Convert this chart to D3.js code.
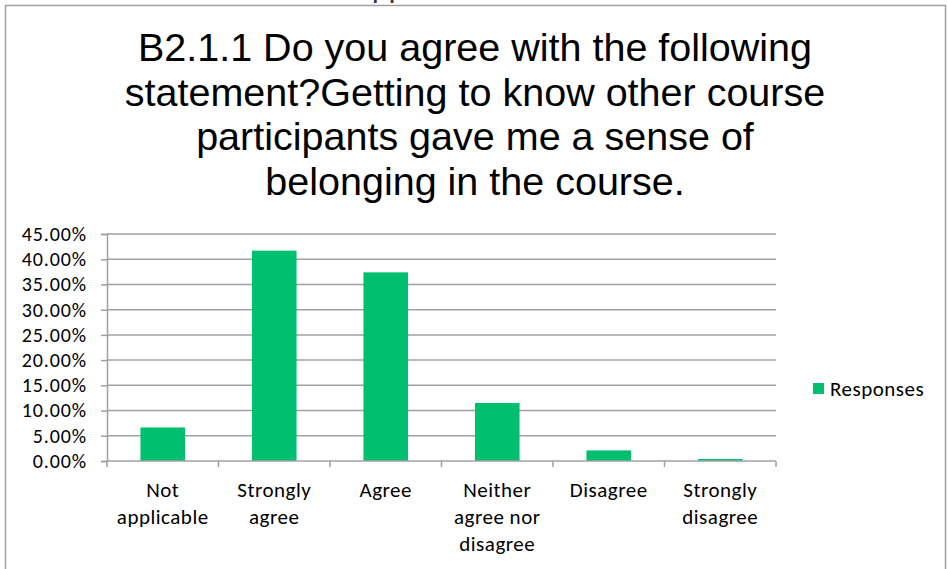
<!DOCTYPE html>
<html>
<head>
<meta charset="utf-8">
<script src="https://cdn.jsdelivr.net/npm/d3@7"></script>
<style>
html,body{margin:0;padding:0;background:#fff;}
svg{display:block;}
</style>
</head>
<body>
<svg id="chart" width="948" height="569"></svg>
<script>
const titleLines = [
  "B2.1.1 Do you agree with the following",
  "statement?Getting to know other course",
  "participants gave me a sense of",
  "belonging in the course."
];
const categories = [
  ["Not", "applicable"],
  ["Strongly", "agree"],
  ["Agree"],
  ["Neither", "agree nor", "disagree"],
  ["Disagree"],
  ["Strongly", "disagree"]
];
const categoryKeys = ["Not applicable","Strongly agree","Agree","Neither agree nor disagree","Disagree","Strongly disagree"];
const responses = [0.0665, 0.417, 0.374, 0.115, 0.021, 0.004];
const yTicks = [0, 0.05, 0.10, 0.15, 0.20, 0.25, 0.30, 0.35, 0.40, 0.45];
const seriesName = "Responses";

const svg = d3.select("#chart");
const green = "#00bf6f";
const gridColor = "#a0a0a0";
const labelFont = "Carlito, Calibri, Lato, sans-serif";

// outer border
svg.append("rect").attr("x", 5.5).attr("y", 5.5).attr("width", 940).attr("height", 600)
  .attr("fill", "none").attr("stroke", "#a0a0a0").attr("stroke-width", 1.5);

// cut-off text fragment from above
svg.append("text").attr("x", 372).attr("y", -3).attr("font-family", "Liberation Sans, Arial")
  .attr("font-size", 30).attr("fill", "#333").text("pp");

// title
svg.append("g").selectAll("text").data(titleLines).join("text")
  .attr("x", 475).attr("y", (d, i) => 61 + i * 44.6)
  .attr("text-anchor", "middle")
  .attr("font-family", "Liberation Sans, Arial, sans-serif")
  .attr("font-size", 39.5).attr("fill", "#000")
  .text(d => d);

const x0 = 107, x1 = 776, yTop = 234, yBot = 461;
const x = d3.scaleBand().domain(categoryKeys).range([x0, x1]).padding(0);
const y = d3.scaleLinear().domain([0, 0.45]).range([yBot, yTop]);

// gridlines
svg.append("g").selectAll("line").data(yTicks.slice(1)).join("line")
  .attr("x1", x0).attr("x2", x1).attr("y1", d => y(d)).attr("y2", d => y(d))
  .attr("stroke", gridColor).attr("stroke-width", 1.5);

// y axis
const yAxis = d3.axisLeft(y).tickValues(yTicks).tickSize(6).tickPadding(14)
  .tickFormat(d => (d * 100).toFixed(2) + "%");
const gy = svg.append("g").attr("transform", `translate(${x0},0)`).call(yAxis);
gy.select(".domain").attr("stroke", gridColor).attr("stroke-width", 1.5);
gy.selectAll(".tick line").attr("stroke", gridColor).attr("stroke-width", 1.5);
gy.selectAll(".tick text").attr("font-family", labelFont).attr("font-size", 20)
  .attr("fill", "#000").attr("letter-spacing", 0.9);

// bars
const barW = x.bandwidth() * 0.4;
svg.append("g").selectAll("rect").data(responses).join("rect")
  .attr("x", (d, i) => x(categoryKeys[i]) + (x.bandwidth() - barW) / 2)
  .attr("width", barW)
  .attr("y", d => y(d)).attr("height", d => yBot - y(d))
  .attr("fill", green);

// x axis line and ticks
svg.append("line").attr("x1", x0).attr("x2", x1).attr("y1", yBot).attr("y2", yBot)
  .attr("stroke", gridColor).attr("stroke-width", 1.5);
const tickXs = categoryKeys.map(k => x(k)).concat([x1]);
svg.append("g").selectAll("line").data(tickXs).join("line")
  .attr("x1", d => d).attr("x2", d => d).attr("y1", yBot).attr("y2", yBot + 6)
  .attr("stroke", gridColor).attr("stroke-width", 1.5);

// x labels
const xl = svg.append("g").selectAll("text").data(categories).join("text")
  .attr("text-anchor", "middle")
  .attr("font-family", labelFont).attr("font-size", 21).attr("letter-spacing", 0.5)
  .attr("fill", "#000");
xl.each(function(lines, i) {
  const cx = x(categoryKeys[i]) + x.bandwidth() / 2;
  d3.select(this).selectAll("tspan").data(lines).join("tspan")
    .attr("x", cx).attr("y", (d, j) => 497 + j * 27).text(d => d);
});

// legend
svg.append("rect").attr("x", 813).attr("y", 383).attr("width", 11).attr("height", 11).attr("fill", green);
svg.append("text").attr("x", 830).attr("y", 396).attr("font-family", labelFont)
  .attr("font-size", 21).attr("letter-spacing", 0.5).attr("fill", "#000").text(seriesName);
</script>
</body>
</html>
